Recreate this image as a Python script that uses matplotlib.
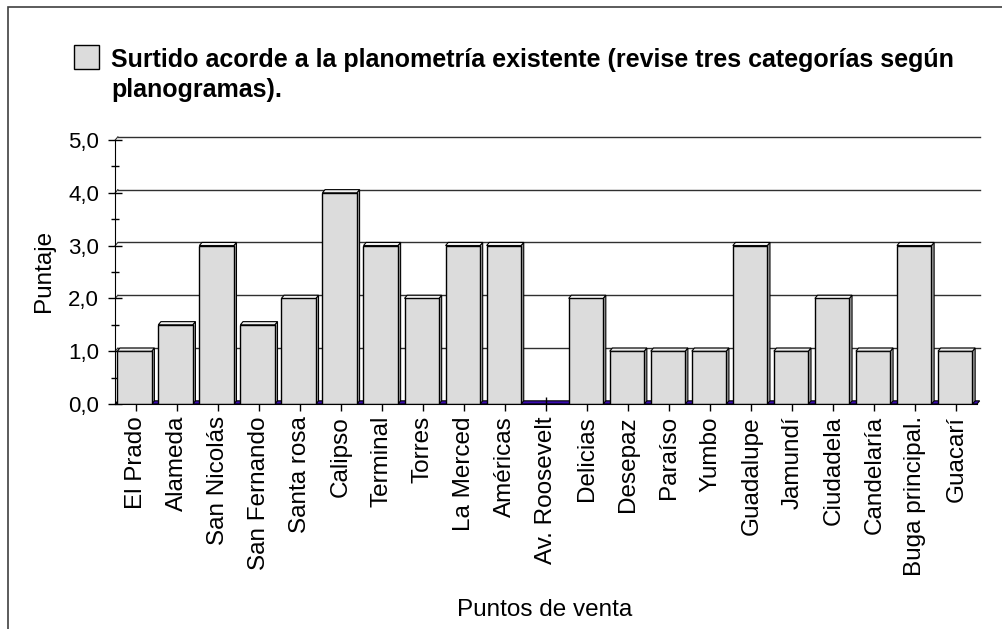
import matplotlib
matplotlib.use("Agg")
import matplotlib.pyplot as plt
from matplotlib.patches import Polygon, Rectangle

plt.rcParams['font.family'] = ['Liberation Sans', 'DejaVu Sans']

# data
puntos = ['El Prado', 'Alameda', 'San Nicolás', 'San Fernando', 'Santa rosa',
          'Calipso', 'Terminal', 'Torres', 'La Merced', 'Américas',
          'Av. Roosevelt', 'Delicias', 'Desepaz', 'Paraíso', 'Yumbo',
          'Guadalupe', 'Jamundí', 'Ciudadela', 'Candelaría',
          'Buga principal.', 'Guacarí']
puntaje = [1.0, 1.5, 3.0, 1.5, 2.0, 4.0, 3.0, 2.0, 3.0, 3.0, 0.0,
           2.0, 1.0, 1.0, 1.0, 3.0, 1.0, 2.0, 1.0, 3.0, 1.0]
yticks = [0, 1, 2, 3, 4, 5]
ytick_labels = ['0,0', '1,0', '2,0', '3,0', '4,0', '5,0']
titulo = ['Surtido acorde a la planometría existente (revise tres categorías según',
          'planogramas).']

W, H = 1003, 629
FRONT = '#dcdcdc'
TOP = '#f0f0f0'
SIDE = '#a6a6a6'
FLOOR = '#3a0cb0'
DX, DY = 0.065, 0.06   # fake 3D depth in data units

fig = plt.figure(figsize=(W / 100, H / 100), dpi=100)
ax = fig.add_axes([115.2 / W, 1 - 404 / H, (977 - 115.2) / W, (404 - 140) / H])

n = len(puntos)
xs = list(range(n))
ax.set_xlim(-0.5, n - 0.5)
ax.set_ylim(0, 5)

# floor strip
ax.add_patch(Polygon([(-0.5, 0), (n - 0.5, 0), (n - 0.5 + DX, DY), (-0.5 + DX, DY)],
                     closed=True, facecolor=FLOOR, edgecolor='black', lw=0.8,
                     zorder=1, clip_on=False))

# back-wall gridlines
for y in yticks[1:]:
    ax.plot([-0.5 + DX, n - 0.5 + DX], [y + DY, y + DY], color='#303030', lw=1,
            zorder=0.5, clip_on=False)
    ax.plot([-0.5, -0.5 + DX], [y, y + DY], color='#303030', lw=0.8,
            zorder=0.5, clip_on=False)

# bars: front faces
bw = 0.84
shift = -0.03
ax.bar([x + shift for x in xs], puntaje, width=bw, color=FRONT,
       edgecolor='black', lw=1, zorder=3)
# top and side faces
for x, v in zip(xs, puntaje):
    if v <= 0:
        continue
    l = x + shift - bw / 2
    r = x + shift + bw / 2
    ax.add_patch(Polygon([(l, v), (l + DX, v + DY), (r + DX, v + DY), (r, v)],
                         closed=True, facecolor=TOP, edgecolor='black', lw=0.8,
                         zorder=3, clip_on=False))
    ax.add_patch(Polygon([(r, 0), (r + DX, DY), (r + DX, v + DY), (r, v)],
                         closed=True, facecolor=SIDE, edgecolor='black', lw=0.8,
                         zorder=2.9, clip_on=False))

for s in ['top', 'right']:
    ax.spines[s].set_visible(False)
ax.spines['left'].set_color('black')
ax.spines['bottom'].set_color('black')
ax.spines['bottom'].set_zorder(4)

ax.set_yticks(yticks)
ax.set_yticklabels(ytick_labels, fontsize=16)
ax.set_yticks([0.5, 1.5, 2.5, 3.5, 4.5], minor=True)
ax.tick_params(axis='y', which='major', direction='inout', length=9.4, width=1, pad=7)
ax.tick_params(axis='y', which='minor', direction='inout', length=5.8, width=1)

ax.set_xticks(xs)
ax.set_xticklabels(puntos, rotation=90, fontsize=17.5)
ax.tick_params(axis='x', direction='inout', length=9.4, width=1, pad=4)
for t in ax.get_xticklines():
    t.set_zorder(5)

fig.text(44 / W, 1 - 271 / H, 'Puntaje', rotation=90, fontsize=17.5,
         ha='center', va='center')
fig.text(545 / W, 1 - 616 / H, 'Puntos de venta', fontsize=17.5,
         ha='center', va='baseline')

# legend / title
fig.patches.append(Rectangle((74.5 / W, 1 - 69 / H), 24.5 / W, 24 / H,
                             transform=fig.transFigure, facecolor=FRONT,
                             edgecolor='black', lw=1))
fig.text(111 / W, 1 - 67 / H, titulo[0], fontsize=18, fontweight='bold',
         ha='left', va='baseline')
fig.text(111 / W, 1 - 97 / H, titulo[1], fontsize=18, fontweight='bold',
         ha='left', va='baseline')

# outer frame (only left and top edges show)
fig.patches.append(Rectangle((8.5 / W, -0.1), 1.2, 1 - 6.5 / H + 0.1,
                             transform=fig.transFigure, facecolor='none',
                             edgecolor='#404040', lw=1.2))

fig.savefig('out.png', dpi=100)
